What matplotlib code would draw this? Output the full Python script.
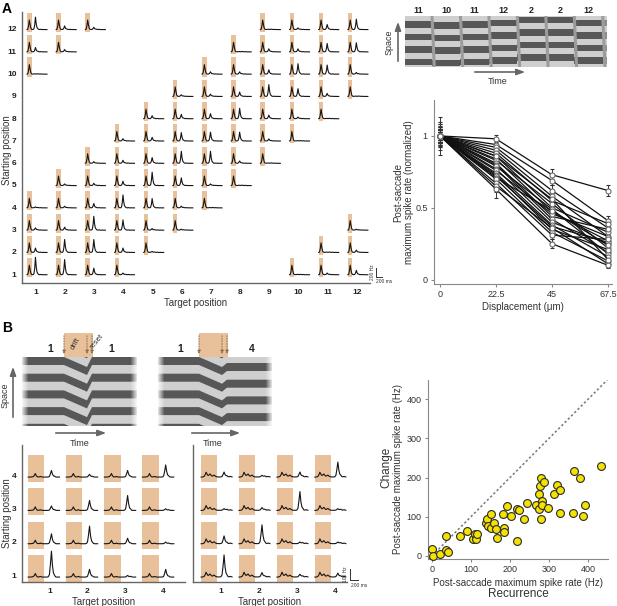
import numpy as np
import matplotlib
matplotlib.use('Agg')
import matplotlib.pyplot as plt
from matplotlib.patches import Rectangle, Polygon

plt.rcParams['font.family'] = ['Liberation Sans', 'DejaVu Sans']

W, H = 617, 606
ORANGE = '#e8c09a'
DARK = '#575757'
LIGHT = '#cfcfcf'

# ---------------- data ----------------
# panel A grid: second-peak height (Hz) for starting position (rows 1..12) x target (cols 1..12)
positions_A = list(range(1, 13))
peak2_A = [
    [380, 330, 140, 30, None, None, None, None, None, 0, 30, 90],
    [90, 280, 280, 90, 15, None, None, None, None, None, 0, 45],
    [45, 60, 300, 220, 30, 15, None, None, None, None, None, 15],
    [15, 30, 90, 280, 200, 30, 0, None, None, None, None, None],
    [None, 30, 45, 90, 290, 165, 30, 0, None, None, None, None],
    [None, None, 30, 60, 120, 260, 260, 45, 0, None, None, None],
    [None, None, None, 45, 75, 180, 190, 190, 40, 0, None, None],
    [None, None, None, None, 60, 90, 105, 225, 75, 30, 0, None],
    [None, None, None, None, None, 30, 45, 90, 255, 165, 60, 0],
    [0, None, None, None, None, None, 45, 45, 90, 225, 195, 30],
    [90, 45, None, None, None, None, None, 0, 60, 60, 180, 195],
    [270, 75, 45, None, None, None, None, None, 0, 30, 105, 225],
]
# response templates, sampled every 25 ms
t_A = [25 * i for i in range(27)]
first_A = [10, 15, 90, 220, 120, 40, 15, 10, 10, 12, 15, 15, 10, 12, 18, 14,
           10, 10, 14, 10, 8, 8, 10, 8, 8, 8, 8]
second_A = [0, 0, 0, 0, 0, 0, 0, 0, 0, 0.05, 0.35, 1.0, 0.45, 0.15, 0.05, 0,
            0, 0, 0, 0, 0, 0, 0, 0, 0, 0, 0]

# panel A schematic: positions shown in successive epochs
epoch_pos = [11, 10, 11, 12, 2, 2, 12]

# panel A line chart
displacement = [0, 22.5, 45, 67.5]
rate_0 = [1.0] * 22
rate_22 = [0.98, 0.94, 0.92, 0.90, 0.88, 0.86, 0.84, 0.83, 0.81, 0.80, 0.79,
           0.77, 0.76, 0.74, 0.73, 0.72, 0.71, 0.70, 0.67, 0.65, 0.63, 0.86]
rate_45 = [0.73, 0.69, 0.62, 0.58, 0.55, 0.50, 0.47, 0.53, 0.44, 0.42, 0.49,
           0.40, 0.46, 0.38, 0.35, 0.37, 0.48, 0.33, 0.31, 0.36, 0.25, 0.56]
rate_67 = [0.62, 0.41, 0.36, 0.30, 0.39, 0.33, 0.27, 0.22, 0.35, 0.19, 0.18,
           0.25, 0.30, 0.16, 0.21, 0.26, 0.24, 0.13, 0.28, 0.11, 0.10, 0.14]
err_0 = [0.13, 0.05, 0.08, 0.03, 0.06, 0.04, 0.10, 0.05, 0.03, 0.07, 0.04,
         0.05, 0.06, 0.03, 0.04, 0.05, 0.08, 0.03, 0.04, 0.06, 0.05, 0.04]
err_22 = [0.03, 0.03, 0.04, 0.03, 0.03, 0.04, 0.03, 0.03, 0.04, 0.03, 0.03,
          0.04, 0.03, 0.04, 0.03, 0.03, 0.04, 0.03, 0.05, 0.04, 0.06, 0.03]
err_45 = [0.04, 0.03, 0.04, 0.03, 0.04, 0.03, 0.03, 0.04, 0.03, 0.03, 0.04,
          0.03, 0.04, 0.03, 0.03, 0.03, 0.04, 0.03, 0.03, 0.03, 0.03, 0.04]
err_67 = [0.04, 0.03, 0.03, 0.03, 0.03, 0.03, 0.02, 0.03, 0.03, 0.02, 0.02,
          0.03, 0.03, 0.02, 0.02, 0.03, 0.02, 0.02, 0.03, 0.02, 0.02, 0.02]

# panel B schematics
sch_start = [1, 1]
sch_target = [1, 4]

# panel B grids: second-peak height (Hz), rows = starting 1..4, cols = target 1..4
positions_B = [1, 2, 3, 4]
peak2_B_left = [
    [235, 70, 15, 70],
    [90, 160, 50, 15],
    [40, 90, 135, 15],
    [60, 25, 60, 110],
]
peak2_B_right = [
    [200, 40, 25, 35],
    [70, 170, 15, 15],
    [15, 25, 170, 15],
    [45, 15, 45, 135],
]
t_B = [25 * i for i in range(32)]
base_B_left = [4, 4, 4, 5, 6, 8, 18, 36, 16, 6, 5, 6, 10, 6, 4, 4,
               4, 4, 4, 4, 4, 4, 4, 4, 4, 6, 10, 6, 4, 4, 4, 4]
base_B_right = [4, 4, 6, 10, 24, 48, 30, 18, 24, 32, 20, 12, 16, 22, 14, 8,
                6, 5, 5, 5, 5, 5, 5, 5, 6, 10, 14, 8, 6, 10, 8, 5]
second_B = [0, 0, 0, 0, 0, 0, 0, 0, 0, 0, 0, 0, 0, 0, 0, 0,
            0, 0, 0, 0, 0.02, 0.1, 0.5, 1.0, 0.45, 0.15, 0.05, 0, 0, 0, 0, 0]

# panel B scatter
recurrence = [0, 2, 20, 37, 41, 37, 71, 91, 104, 111, 113, 115, 139, 142, 144,
              151, 151, 159, 164, 167, 183, 185, 185, 193, 203, 217, 219, 222,
              236, 244, 266, 274, 275, 278, 280, 281, 280, 283, 288, 298, 312,
              321, 328, 328, 363, 362, 379, 386, 391, 432]
change = [17, 0, 6, 14, 9, 51, 51, 63, 43, 55, 43, 55, 84, 95, 75, 107, 71,
          83, 68, 46, 107, 70, 61, 127, 102, 37, 120, 118, 95, 136, 129, 159,
          120, 178, 200, 141, 95, 130, 189, 123, 159, 181, 168, 110, 217, 110,
          200, 103, 130, 229]

# ---------------- figure ----------------
fig = plt.figure(figsize=(W / 100, H / 100), dpi=100)


def px_axes(x0, y0, x1, y1):
    ax = fig.add_axes([x0 / W, 1 - y1 / H, (x1 - x0) / W, (y1 - y0) / H])
    ax.patch.set_visible(False)
    return ax


# overlay in pixel coordinates for letters, arrows and extra labels
ov = px_axes(0, 0, W, H)
ov.set_xlim(0, W)
ov.set_ylim(H, 0)
ov.axis('off')
ov.text(2, 9, 'A', fontsize=10, fontweight='bold', va='center')
ov.text(2, 328, 'B', fontsize=10, fontweight='bold', va='center')
arrow = dict(arrowstyle='-|>,head_width=0.18,head_length=0.5', color='#666', lw=1.2)
ov.annotate('', xy=(398, 19), xytext=(398, 64), arrowprops=arrow)
ov.text(389, 42, 'Space', rotation=90, fontsize=6.5, ha='center', va='center', color='#333')
ov.annotate('', xy=(528, 72), xytext=(472, 72), arrowprops=arrow)
ov.text(498, 82, 'Time', fontsize=6.5, ha='center', va='center', color='#333')
ov.annotate('', xy=(13, 364), xytext=(13, 420), arrowprops=arrow)
ov.text(5, 395, 'Space', rotation=90, fontsize=6.5, ha='center', va='center', color='#333')
ov.annotate('', xy=(109, 433), xytext=(53, 433), arrowprops=arrow)
ov.text(80, 443, 'Time', fontsize=6.5, ha='center', va='center', color='#333')
ov.annotate('', xy=(243, 433), xytext=(189, 433), arrowprops=arrow)
ov.text(213, 443, 'Time', fontsize=6.5, ha='center', va='center', color='#333')
ov.text(518, 594, 'Recurrence', fontsize=8.5, ha='center', va='center', color='#333')
ov.text(386, 467, 'Change', fontsize=8.5, rotation=90, ha='center', va='center', color='#333')
ov.text(7, 150, 'Starting position', fontsize=7, rotation=90, ha='center', va='center', color='#333')
ov.text(7, 513, 'Starting position', fontsize=7, rotation=90, ha='center', va='center', color='#333')


def trace_grid(ax, positions, peak2, base, second, t_ms, col_px, row_px,
               cell_left, orange_w, orange_lo, orange_hi, ms_per_px, hz_per_px, base_px):
    for si, s in enumerate(positions):
        for ti, t in enumerate(positions):
            amp = peak2[si][ti]
            if amp is None:
                continue
            x0 = t - cell_left / col_px
            ax.add_patch(Rectangle((x0, s - orange_lo / row_px), orange_w / col_px,
                                   (orange_lo + orange_hi) / row_px,
                                   facecolor=ORANGE, edgecolor='none', zorder=1))
            hz = np.array(base) + amp * np.array(second)
            xs = x0 + np.array(t_ms) / ms_per_px / col_px
            ys = s - base_px / row_px + hz / hz_per_px / row_px
            ax.plot(xs, ys, color='#151515', lw=0.8, zorder=2)


def grid_axes(ax, positions, xlim, ylim, yticklabels=True):
    ax.set_xlim(*xlim)
    ax.set_ylim(*ylim)
    for side in ['top', 'right']:
        ax.spines[side].set_visible(False)
    for side in ['left', 'bottom']:
        ax.spines[side].set_color('#666')
        ax.spines[side].set_linewidth(1.0)
    ax.set_xticks(positions)
    ax.set_yticks(positions)
    ax.tick_params(length=0, labelsize=6, pad=4, labelcolor='#222')
    for lab in ax.get_xticklabels() + ax.get_yticklabels():
        lab.set_fontweight('bold')
    ax.set_xlabel('Target position', fontsize=7, labelpad=2, color='#333')
    if not yticklabels:
        ax.set_yticklabels([])


# ---- A grid ----
axA = px_axes(22, 12, 370, 283)
colA, rowA = 29.2, 22.27
trace_grid(axA, positions_A, peak2_A, first_A, second_A, t_A, colA, rowA,
           cell_left=9, orange_w=4.6, orange_lo=3, orange_hi=16,
           ms_per_px=32.5, hz_per_px=200 / 9, base_px=1)
grid_axes(axA, positions_A, (0.52, 12.45), (0.6, 12.76))
sx, sy = 12 + 19 / colA, 1 - 3 / rowA
axA.plot([sx, sx], [sy, sy + 200 / (200 / 9) / rowA], color='#333', lw=0.7, clip_on=False)
axA.plot([sx, sx + 200 / 32.5 / colA], [sy, sy], color='#333', lw=0.7, clip_on=False)
axA.text(sx - 0.1, sy + 0.2, '200 Hz', rotation=90, fontsize=3.5, ha='center', va='center', color='#333')
axA.text(sx + 0.02, sy - 0.22, '200 ms', fontsize=3.5, ha='left', va='center', color='#333')

# ---- A schematic ----
axS = px_axes(405, 16, 607, 67)
axS.set_xlim(0.05, 7.15)
axS.set_ylim(4.08, 0)
axS.axis('off')
axS.add_patch(Rectangle((0.05, 0), 7.1, 4.08, facecolor=LIGHT, edgecolor='none'))
for i, p in enumerate(epoch_pos + [epoch_pos[-1]]):
    step = (p - 11 + 6) % 12 - 6
    shift = step * 0.11
    x_start = max(i, 0.05)
    width = (i + 1 - x_start) if i < len(epoch_pos) else 0.15
    alpha = 1.0 if i < len(epoch_pos) else 0.55
    for k in range(-1, 5):
        axS.add_patch(Rectangle((x_start, 0.4 + k - shift), width, 0.52,
                                facecolor=DARK, edgecolor='none', alpha=alpha))
    if i < len(epoch_pos):
        axS.text(i + 0.5, -0.45, str(p), fontsize=6.5, fontweight='bold',
                 ha='center', va='center', color='#222')
for i in range(1, len(epoch_pos) + 1):
    axS.plot([i, i + 0.08], [0, 4.08], color='#9c9c9c', lw=2.2, solid_capstyle='butt')

# ---- A line chart ----
axL = px_axes(434, 100, 612, 284)
for i in range(len(rate_22)):
    vals = [rate_0[i], rate_22[i], rate_45[i], rate_67[i]]
    errs = [err_0[i], err_22[i], err_45[i], err_67[i]]
    axL.errorbar(displacement, vals, yerr=errs, color='#111', lw=0.9,
                 marker='o', ms=3.6, mfc='white', mec='#6a6a6a', mew=0.8,
                 ecolor='#333', elinewidth=0.7, capsize=1.5, capthick=0.7)
axL.set_xlim(-2.4, 69.1)
axL.set_ylim(-0.03, 1.25)
axL.set_xticks(displacement)
axL.set_xticklabels(['0', '22.5', '45', '67.5'])
axL.set_yticks([0, 0.5, 1])
axL.set_yticklabels(['0', '0.5', '1'])
for side in ['top', 'right']:
    axL.spines[side].set_visible(False)
for side in ['left', 'bottom']:
    axL.spines[side].set_color('#888')
axL.tick_params(length=2.5, width=0.8, color='#888', labelsize=6.5, pad=2, labelcolor='#333')
axL.set_xlabel('Displacement (\u03bcm)', fontsize=7, labelpad=2, color='#333')
axL.set_ylabel('Post-saccade\nmaximum spike rate (normalized)', fontsize=7,
               labelpad=1, color='#333', linespacing=1.1)

# ---- B schematics ----
boxes = [(22, 137, 42, 65, 70), (158, 272, 41, 64, 69)]
label_x = [(28, 89), (22, 94)]
for (x0, x1, d0, d1, r1), s0, s1, (lx0, lx1) in zip(boxes, sch_start, sch_target, label_x):
    ax = px_axes(x0, 330, x1, 426)
    wid = x1 - x0
    ax.set_xlim(0, wid)
    ax.set_ylim(96, 0)
    ax.axis('off')
    bg = Rectangle((0, 27), wid, 69, facecolor=LIGHT, edgecolor='none')
    ax.add_patch(bg)
    post = (s1 - s0) * 2.0
    drift = 10
    for k in range(-1, 5):
        y0 = 27 + k * 16.7
        xs = [0, d0, d1, r1, wid]
        top = [y0, y0, y0 + drift, y0 + post, y0 + post]
        pts = list(zip(xs, top)) + list(zip(xs[::-1], [v + 8 for v in top[::-1]]))
        poly = Polygon(pts, closed=True, facecolor=DARK, edgecolor='none')
        ax.add_patch(poly)
        poly.set_clip_path(bg)
    # faded ends
    for j in range(6):
        a = 0.8 * (1 - j / 6)
        ax.add_patch(Rectangle((j, 27), 1.2, 69, facecolor='white', edgecolor='none', alpha=a))
        ax.add_patch(Rectangle((wid - j - 1.2, 27), 1.2, 69, facecolor='white', edgecolor='none', alpha=a))
    ax.add_patch(Rectangle((d0, 3), r1 + 1 - d0, 24, facecolor=ORANGE, edgecolor='none'))
    for xv in [d0, d1, r1]:
        ax.annotate('', xy=(xv, 27), xytext=(xv, 3),
                    arrowprops=dict(arrowstyle='-|>,head_width=0.08,head_length=0.2',
                                    color='#8a6a4a', lw=0.7, linestyle=':'))
    ax.text(lx0, 19, str(s0), fontsize=7.5, fontweight='bold',
            ha='center', va='center', color='#222')
    ax.text(lx1, 19, str(s1), fontsize=7.5, fontweight='bold',
            ha='center', va='center', color='#222')
    if x0 == 22:
        ax.text((d0 + d1) / 2, 14, 'drift', rotation=60, fontsize=5.5,
                ha='center', va='center', color='#333')
        ax.text(r1 + 5, 11, 'reset', rotation=50, fontsize=5.5,
                ha='center', va='center', color='#333')

# ---- B grids ----
axBL = px_axes(22, 445, 185, 582)
trace_grid(axBL, positions_B, peak2_B_left, base_B_left, second_B, t_B, 37.7, 33.3,
           cell_left=21, orange_w=16, orange_lo=7, orange_hi=20,
           ms_per_px=25, hz_per_px=100 / 11, base_px=2.5)
grid_axes(axBL, positions_B, (0.28, 4.56), (0.79, 4.9))

axBR = px_axes(193, 445, 347, 582)
trace_grid(axBR, positions_B, peak2_B_right, base_B_right, second_B, t_B, 38, 33.3,
           cell_left=20, orange_w=16, orange_lo=7, orange_hi=20,
           ms_per_px=25, hz_per_px=100 / 11, base_px=2.5)
grid_axes(axBR, positions_B, (0.26, 4.32), (0.79, 4.9), yticklabels=False)
bx, by = 4 + 15 / 38, 1 - 5 / 33.3
axBR.plot([bx, bx], [by, by + 11 / 33.3], color='#333', lw=0.7, clip_on=False)
axBR.plot([bx, bx + 200 / 25 / 38], [by, by], color='#333', lw=0.7, clip_on=False)
axBR.text(bx - 0.12, by + 0.17, '100 Hz', rotation=90, fontsize=3.5, ha='center', va='center', color='#333')
axBR.text(bx + 0.02, by - 0.15, '200 ms', fontsize=3.5, ha='left', va='center', color='#333')

# ---- B scatter ----
axC = px_axes(428, 380, 608, 559)
axC.axline((0, 0), slope=1, color='#777', lw=1.1, linestyle=(0, (1.5, 1.5)))
axC.scatter(recurrence, change, s=32, c='#f4e200', edgecolors='#2b2b2b',
            linewidths=0.8, zorder=3, clip_on=False)
axC.set_xlim(-10, 451)
axC.set_ylim(-8, 449)
axC.set_xticks([0, 100, 200, 300, 400])
axC.set_yticks([0, 100, 200, 300, 400])
for side in ['top', 'right']:
    axC.spines[side].set_visible(False)
for side in ['left', 'bottom']:
    axC.spines[side].set_color('#888')
axC.tick_params(length=2.5, width=0.8, color='#888', labelsize=6.5, pad=2, labelcolor='#333')
axC.set_xlabel('Post-saccade maximum spike rate (Hz)', fontsize=7, labelpad=3, color='#333')
axC.set_ylabel('Post-saccade maximum spike rate (Hz)', fontsize=7, labelpad=3, color='#333')

fig.savefig('out.png', dpi=100)
